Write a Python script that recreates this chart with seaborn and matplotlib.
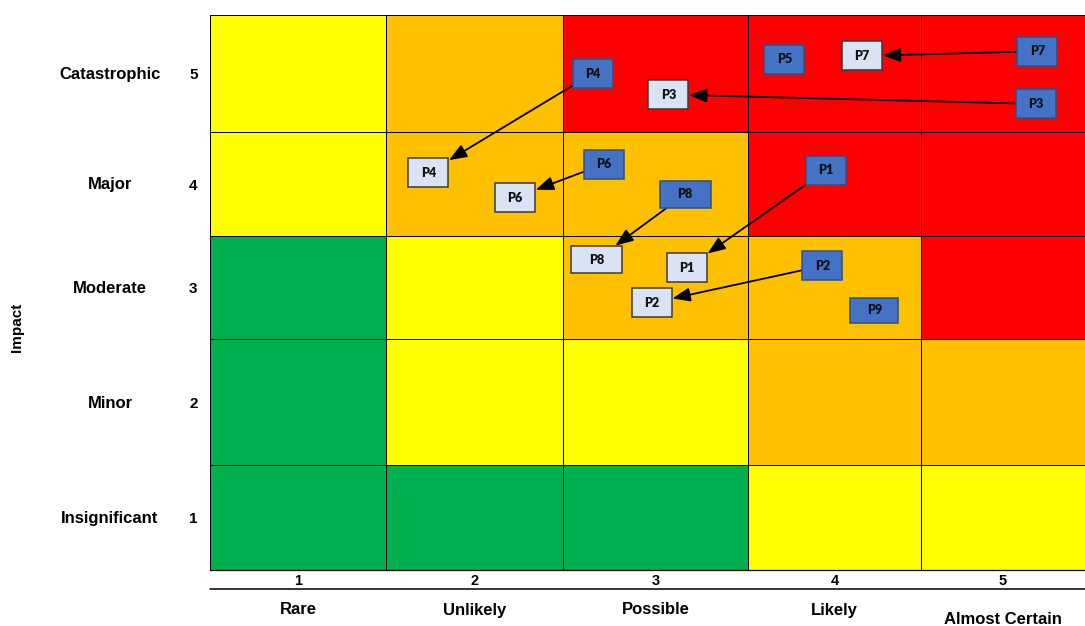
import numpy as np
import matplotlib
matplotlib.use("Agg")
import matplotlib.pyplot as plt
import seaborn as sns
from matplotlib.colors import ListedColormap
from matplotlib.patches import Rectangle

# ---- chart data -------------------------------------------------------------
likelihood_labels = ["Rare", "Unlikely", "Possible", "Likely", "Almost Certain"]
impact_labels = ["Insignificant", "Minor", "Moderate", "Major", "Catastrophic"]
scores = [1, 2, 3, 4, 5]

# risk level per cell: rows = impact 1..5 (bottom to top), cols = likelihood 1..5
# 0 = low (green), 1 = medium (yellow), 2 = high (amber), 3 = extreme (red)
risk_levels = [
    [0, 0, 0, 1, 1],
    [0, 1, 1, 2, 2],
    [0, 1, 2, 2, 3],
    [1, 2, 2, 3, 3],
    [1, 2, 3, 3, 3],
]

# risks: current (likelihood, impact) and target after treatment (None = no target)
risk_ids = ["P1", "P2", "P3", "P4", "P5", "P6", "P7", "P8", "P9"]
current_likelihood = [3.95, 3.93, 5.20, 2.66, 3.71, 2.72, 5.21, 3.16, 4.23]
current_impact = [4.13, 3.21, 4.74, 5.00, 5.12, 4.19, 5.19, 3.90, 2.78]
target_likelihood = [3.17, 2.98, 3.07, 1.74, None, 2.23, 4.16, 2.68, None]
target_impact = [3.19, 2.85, 4.82, 4.11, None, 3.87, 5.15, 3.27, None]

# ---- layout of the matrix (cell edges in drawing units) ----------------------
col_edges = np.array([0, 176, 353, 538, 711, 875])
row_edges = np.array([0, 105, 231, 334, 438, 555])
score_edges = np.arange(0.5, 6.0, 1.0)


def lx(s):
    return np.interp(s, score_edges, col_edges)


def iy(s):
    return np.interp(s, score_edges, row_edges)


level_colors = ["#00B050", "#FFFF00", "#FFC000", "#FF0000"]
current_face, current_edge = "#4472C4", "#2F4F86"
target_face, target_edge = "#DAE3F3", "#3A3A3A"
box_size = {"default": (40, 29), "P8": (51, 27), "P9": (48, 25)}

sns.set_theme(style="white")
plt.rcParams["font.family"] = ["Liberation Sans", "DejaVu Sans"]
plt.rcParams["text.color"] = "black"
plt.rcParams["xtick.color"] = "black"
plt.rcParams["ytick.color"] = "black"

fig = plt.figure(figsize=(10.85, 6.26), dpi=100)
ax = fig.add_axes([210 / 1085, 56 / 626, 875 / 1085, 555 / 626])

cmap = ListedColormap(level_colors)
ax.pcolormesh(col_edges, row_edges, np.array(risk_levels), cmap=cmap,
              vmin=-0.5, vmax=3.5, edgecolors="black", linewidth=0.55,
              antialiased=False, zorder=1)
ax.set_xlim(0, 875)
ax.set_ylim(0, 555)

for side in ["top", "right", "left"]:
    ax.spines[side].set_visible(False)
ax.spines["bottom"].set_color("black")
ax.spines["bottom"].set_linewidth(0.9)

centers_x = lx(np.array(scores, dtype=float))
centers_y = iy(np.array(scores, dtype=float))
ax.set_xticks(centers_x)
ax.set_xticklabels([str(s) for s in scores], fontweight="bold", fontsize=10.5)
ax.set_yticks(centers_y)
ax.set_yticklabels([str(s) for s in scores], fontweight="bold", fontsize=11)
ax.tick_params(axis="x", length=0, pad=3)
ax.tick_params(axis="y", length=0, pad=9)

# category names beside the score numbers
for y, name in zip(centers_y, impact_labels):
    ax.text(-100, y - 1, name, ha="center", va="center", fontsize=12,
            fontweight="bold", clip_on=False)
for x, name in zip(centers_x, likelihood_labels):
    yoff = -49 if name == "Almost Certain" else -40
    ax.text(x, yoff, name, ha="center", va="center", fontsize=12,
            fontweight="bold", clip_on=False)
ax.plot([0, 875], [-19, -19], color="black", lw=1.1, clip_on=False)
ax.text(-193, 243, "Impact", rotation=90, ha="center", va="center",
        fontsize=11, fontweight="bold", clip_on=False)


def draw_box(rid, lk, im, face, edge):
    w, h = box_size.get(rid, box_size["default"])
    cx, cy = lx(lk), iy(im)
    rect = Rectangle((cx - w / 2, cy - h / 2), w, h, facecolor=face,
                     edgecolor=edge, lw=1.1, zorder=4)
    ax.add_patch(rect)
    ax.text(cx, cy, rid, ha="center", va="center", fontsize=9,
            fontweight="heavy", family=["Lato", "DejaVu Sans"],
            color="#111111", zorder=5)
    return rect, (cx, cy)


for rid, cl, ci, tl, ti in zip(risk_ids, current_likelihood, current_impact,
                               target_likelihood, target_impact):
    cur_rect, cur_xy = draw_box(rid, cl, ci, current_face, current_edge)
    if tl is None:
        continue
    tgt_rect, tgt_xy = draw_box(rid, tl, ti, target_face, target_edge)
    ax.annotate("", xy=tgt_xy, xytext=cur_xy, zorder=3,
                arrowprops=dict(arrowstyle="-|>,head_length=0.9,head_width=0.35",
                                color="black", lw=1.3, shrinkA=0, shrinkB=0,
                                patchA=cur_rect, patchB=tgt_rect))

fig.savefig("out.png", dpi=100)
